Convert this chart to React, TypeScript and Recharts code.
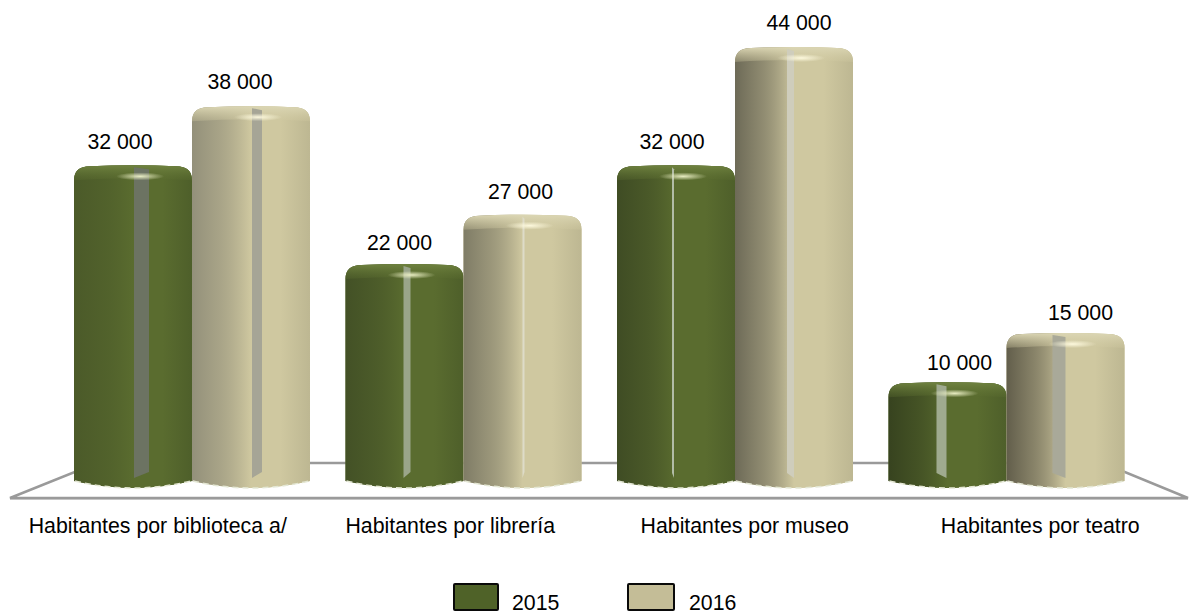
import { Bar, BarChart, Customized, LabelList, Legend, XAxis, YAxis } from 'recharts';

const categories = [
  'Habitantes por biblioteca a/',
  'Habitantes por librería',
  'Habitantes por museo',
  'Habitantes por teatro',
];
const values2015 = [32000, 22000, 32000, 10000];
const values2016 = [38000, 27000, 44000, 15000];
const seriesNames = ['2015', '2016'];

const rows = categories.map((name, i) => ({
  name,
  y2015: values2015[i],
  y2016: values2016[i],
}));

const FONT = '"Liberation Sans", Arial, sans-serif';

const GREEN = {
  key: 'g',
  swatch: '#4f6228',
  mid: '#5a6c2f',
  edge: '#4e5f2a',
  dark: ['#4b5a29', '#435126', '#3f4c24', '#37431f'],
  cap: '#6f8240',
  glow: '#eef2c8',
  strip: ['#6c7362', '#9aa58a', '#b2bca6', '#9faa8f'],
  stripW: [15, 7, 2, 10],
  stripX: [60, 58, 55, 48],
};
const KHAKI = {
  key: 'k',
  swatch: '#c4bd97',
  mid: '#cfc8a0',
  edge: '#bdb792',
  dark: ['#93907a', '#7f7c66', '#6d6a57', '#625e4b'],
  cap: '#dbd6b4',
  glow: '#fffbe0',
  strip: ['#a6a596', '#dedbc8', '#cfcdbc', '#a9a999'],
  stripW: [10, 2, 7, 13],
  stripX: [60, 59, 52, 46],
};
// label offsets: the source has a perspective view, text does not sit on bar centres
const labelShift = [
  [-13, -5, -4, 12],
  [-11, -2, 5, 15],
];
const labelDrop = [
  [1, 3, 1, 5],
  [0, 1, 0, 4],
];
const tickShift = [-34, -13, 10, 34];

const Cylinder = (props: any, look: typeof GREEN) => {
  const { x, y, width, height, index } = props;
  const w = width;
  const foot = y + height;
  const id = `${look.key}${index}`;
  const r = 16;
  const top = `M${x} ${y + 15} Q${x} ${y + 1} ${x + r} ${y + 1} Q${x + w / 2} ${y - 1} ${x + w - r} ${y + 1} Q${x + w} ${y + 1} ${x + w} ${y + 15}`;
  const outline = `${top} L${x + w} ${foot} Q${x + w / 2} ${foot + 14} ${x} ${foot} Z`;
  const cap = `${top} Q${x + w / 2} ${y + 11} ${x} ${y + 15} Z`;
  const sx = x + look.stripX[index];
  const sw = look.stripW[index];
  // the strip foot leans away from the middle of the chart
  const footL = index < 2 ? foot - 3 : foot - 8;
  const footR = index < 2 ? foot - 9 : foot - 3;
  return (
    <g>
      <defs>
        <linearGradient id={`body${id}`} x1="0" x2="1" y1="0" y2="0">
          <stop offset="0" stopColor={look.dark[index]} />
          <stop offset="0.2" stopColor={look.dark[index]} stopOpacity={0.7} />
          <stop offset="0.5" stopColor={look.mid} />
          <stop offset="0.75" stopColor={look.mid} />
          <stop offset="1" stopColor={look.edge} />
        </linearGradient>
        <linearGradient id={`cap${id}`} x1="0" x2="0" y1="0" y2="1">
          <stop offset="0" stopColor={look.cap} />
          <stop offset="1" stopColor={look.mid} stopOpacity={0.3} />
        </linearGradient>
        <radialGradient id={`glow${id}`}>
          <stop offset="0" stopColor={look.glow} stopOpacity={0.95} />
          <stop offset="1" stopColor={look.glow} stopOpacity={0} />
        </radialGradient>
      </defs>
      <path d={outline} fill={look.mid} />
      <path d={outline} fill={`url(#body${id})`} />
      <path d={cap} fill={`url(#cap${id})`} />
      <path
        d={`M${sx} ${y + 2} L${sx + sw} ${y + 4} L${sx + sw} ${footR} L${sx} ${footL} Z`}
        fill={look.strip[index]}
      />
      <ellipse cx={x + w * 0.56} cy={y + 11} rx={24} ry={4} fill={`url(#glow${id})`} />
      <path
        d={`M${x + 1} ${foot} Q${x + w / 2} ${foot + 14} ${x + w - 1} ${foot}`}
        fill="none"
        stroke="#e4e7d4"
        strokeWidth={1.5}
        strokeDasharray="6 4"
      />
    </g>
  );
};

const Floor = () => (
  <g>
    <path d="M97 463 L1103 463 L1188 498 L10 498 Z" fill="none" stroke="#9a9a9a" strokeWidth={2.5} />
    <line x1={10} x2={1188} y1={499.5} y2={499.5} stroke="#c4c4c4" strokeWidth={1} />
  </g>
);

const ValueLabel = (props: any, series: number) => {
  const { x, y, width, value, index } = props;
  const text = String(value).replace(/(\d+)(\d{3})$/, '$1 $2');
  return (
    <text
      x={x + width / 2 + labelShift[series][index]}
      y={y - 17 + labelDrop[series][index]}
      textAnchor="middle"
      fontFamily={FONT}
      fontSize={21.3}
      fill="#000"
    >
      {text}
    </text>
  );
};

const CategoryTick = (props: any) => {
  const { x, y, payload, index } = props;
  return (
    <text
      x={x + tickShift[index]}
      y={y}
      textAnchor="middle"
      fontFamily={FONT}
      fontSize={21.3}
      fill="#000"
    >
      {payload.value}
    </text>
  );
};

const LegendBox = () => (
  <div style={{ position: 'relative', height: 34, fontFamily: FONT, fontSize: 21.3 }}>
    {seriesNames.map((name, i) => (
      <div key={name} style={{ position: 'absolute', left: i * 174, top: 0 }}>
        <div
          style={{
            position: 'absolute',
            left: 0,
            top: 0,
            width: i ? 44 : 42,
            height: 24,
            background: i ? KHAKI.swatch : GREEN.swatch,
            border: '2.5px solid #0a0a0a',
            borderRadius: 2,
          }}
        />
        <span style={{ position: 'absolute', left: i ? 62 : 59, top: 8 }}>{name}</span>
      </div>
    ))}
  </div>
);

export default function App() {
  return (
    <div style={{ position: 'absolute', left: 0, top: 0, width: 1189, height: 615 }}>
      <BarChart
        width={1189}
        height={615}
        data={rows}
        margin={{ top: 47, right: 47, bottom: 104, left: 56 }}
        barGap={0}
        barCategoryGap={18}
      >
        <Customized component={Floor} />
        <XAxis
          dataKey="name"
          axisLine={false}
          tickLine={false}
          height={30}
          interval={0}
          tick={CategoryTick}
          tickMargin={46}
        />
        <YAxis hide domain={[0, 44000]} />
        <Legend
          layout="horizontal"
          align="center"
          verticalAlign="middle"
          content={LegendBox}
          wrapperStyle={{ left: 453, top: 583, width: 300, height: 34 }}
        />
        <Bar
          dataKey="y2015"
          name={seriesNames[0]}
          isAnimationActive={false}
          fill={GREEN.swatch}
          shape={(p: any) => Cylinder(p, GREEN)}
        >
          <LabelList dataKey="y2015" content={(p: any) => ValueLabel(p, 0)} />
        </Bar>
        <Bar
          dataKey="y2016"
          name={seriesNames[1]}
          isAnimationActive={false}
          fill={KHAKI.swatch}
          shape={(p: any) => Cylinder(p, KHAKI)}
        >
          <LabelList dataKey="y2016" content={(p: any) => ValueLabel(p, 1)} />
        </Bar>
      </BarChart>
    </div>
  );
}
